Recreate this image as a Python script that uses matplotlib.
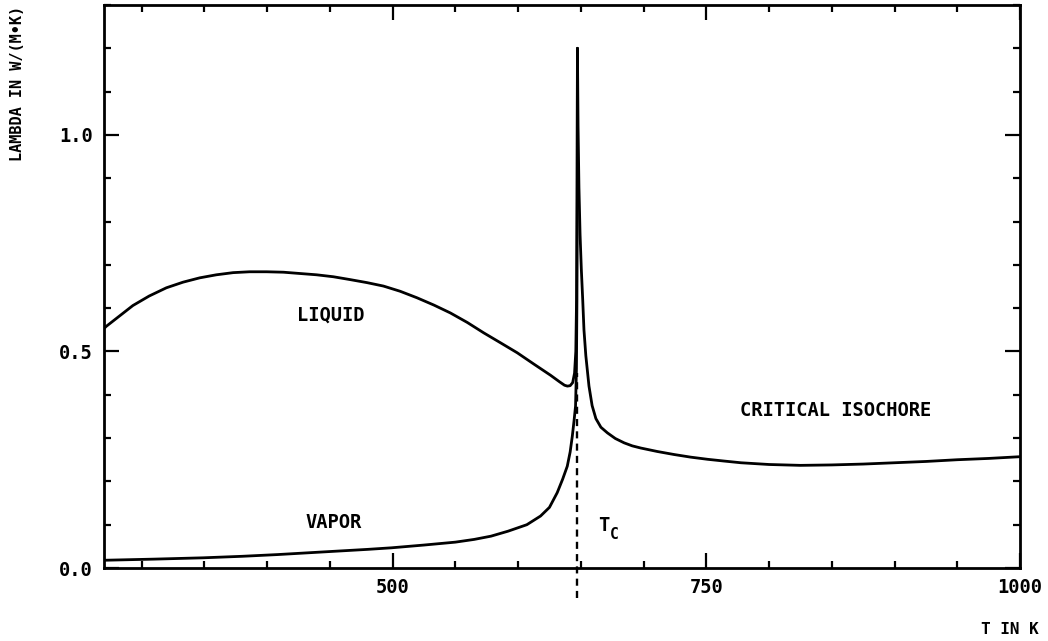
import matplotlib
matplotlib.use("Agg")
import matplotlib.pyplot as plt
from matplotlib.ticker import MultipleLocator

# ---- data ----
T_c = 647.3

liquid_T = [270, 271.8, 293.0, 306.0, 319.7, 333.0, 346.3, 359.5, 372.9, 386.0, 399.6, 413.0,
            426.2, 439.5, 452.8, 466.0, 479.5, 492.7, 506.0, 519.4, 533.0, 546.0, 559.5,
            572.6, 586.0, 599.3, 612.5, 625.9, 633.0, 637.0, 639.3, 641.5, 643.5, 645.0,
            646.0, 646.6, 647.0, 647.3]
liquid_lam = [0.553, 0.558, 0.606, 0.628, 0.647, 0.660, 0.670, 0.677, 0.682, 0.684, 0.684, 0.683,
              0.680, 0.677, 0.6725, 0.666, 0.659, 0.651, 0.639, 0.624, 0.607, 0.589, 0.567,
              0.543, 0.520, 0.497, 0.471, 0.445, 0.430, 0.422, 0.420, 0.421, 0.428, 0.45,
              0.50, 0.62, 0.85, 1.20]

vapor_T = [270, 272.0, 310.0, 348.7, 380.0, 408.3, 450.0, 480.0, 499.0, 525.0, 550.0, 565.0,
           578.4, 592.0, 607.0, 617.9, 625.0, 631.2, 635.5, 639.2, 641.5, 643.2, 644.6,
           645.8, 646.5, 646.9, 647.15, 647.3]
vapor_lam = [0.018, 0.018, 0.0205, 0.0235, 0.027, 0.031, 0.038, 0.043, 0.0466, 0.053, 0.0597,
             0.066, 0.0735, 0.085, 0.100, 0.120, 0.140, 0.174, 0.205, 0.235, 0.268, 0.304,
             0.340, 0.374, 0.46, 0.62, 0.90, 1.20]

iso_T = [647.3, 647.8, 648.5, 649.4, 650.4, 651.5, 652.5, 654.0, 656.5, 659.0, 662.0,
         666.0, 671.2, 677.5, 684.5, 691.0, 697.8, 711.0, 724.4, 737.5, 751.0, 764.0,
         777.6, 800.0, 825.0, 850.0, 875.0, 900.0, 925.0, 950.0, 975.0, 1000.0]
iso_lam = [1.20, 1.02, 0.88, 0.77, 0.69, 0.62, 0.55, 0.49, 0.42, 0.375, 0.345,
           0.325, 0.312, 0.299, 0.289, 0.282, 0.277, 0.269, 0.262, 0.256, 0.251, 0.247,
           0.243, 0.239, 0.237, 0.238, 0.240, 0.243, 0.246, 0.250, 0.253, 0.257]

x_major = [500, 750, 1000]
x_major_labels = ["500", "750", "1000"]
y_major = [0.0, 0.5, 1.0]
y_major_labels = ["0.0", "0.5", "1.0"]

# ---- figure ----
plt.rcParams['font.family'] = ['DejaVu Sans Mono', 'DejaVu Sans']
fig = plt.figure(figsize=(10.48, 6.41), dpi=100)
ax = fig.add_axes([104/1048, 1 - 568/641, (1020-104)/1048, (568-5)/641])

lw = 2.0
for xs, ys in ((liquid_T, liquid_lam), (vapor_T, vapor_lam), (iso_T, iso_lam)):
    ax.plot(xs, ys, color='black', lw=lw, solid_joinstyle='round', solid_capstyle='round')
ax.plot([T_c, T_c], [-0.07, 0.45], color='black', lw=1.7, ls=(0, (3, 2.2)), clip_on=False)

ax.set_xlim(270, 1000)
ax.set_ylim(0, 1.30)

ax.set_xticks(x_major)
ax.set_xticklabels(x_major_labels)
ax.set_yticks(y_major)
ax.set_yticklabels(y_major_labels)
ax.xaxis.set_minor_locator(MultipleLocator(50))
ax.yaxis.set_minor_locator(MultipleLocator(0.1))

ax.tick_params(which='both', direction='in', top=True, right=True, width=1.6, color='black',
               labelsize=13.5)
ax.tick_params(which='major', length=11)
ax.tick_params(which='minor', length=5)
ax.tick_params(axis='x', which='major', pad=7)
ax.tick_params(axis='y', which='major', pad=8)
for lab in ax.get_xticklabels() + ax.get_yticklabels():
    lab.set_fontweight('bold')

for s in ax.spines.values():
    s.set_linewidth(2.0)

txt = dict(fontsize=13.5, fontweight='bold', color='black')
ax.text(451, 0.585, "LIQUID", ha='center', va='center', **txt)
ax.text(452.6, 0.105, "VAPOR", ha='center', va='center', **txt)
ax.text(852.7, 0.364, "CRITICAL ISOCHORE", ha='center', va='center', **txt)
ax.text(668.5, 0.098, "T", ha='center', va='center', **txt)
ax.text(676.5, 0.078, "C", ha='center', va='center', fontsize=10.5, fontweight='bold')

fig.text(18/1048, 1 - 83/641, "LAMBDA IN W/(M•K)", rotation=90, ha='center', va='center',
         fontsize=11, fontweight='bold')
fig.text(1010/1048, 1 - 630/641, "T IN K", ha='center', va='center', fontsize=11.5,
         fontweight='bold')

fig.savefig("out.png", dpi=100)
